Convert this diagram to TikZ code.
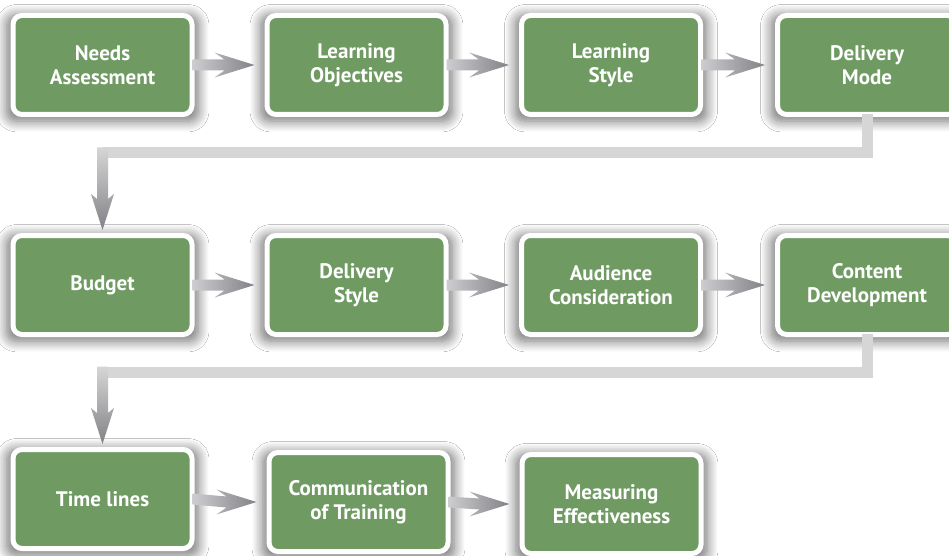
\documentclass[tikz,border=0pt]{standalone}
\usepackage{fontspec}
\setmainfont{PT Sans}
\usetikzlibrary{calc,shadows.blur}
\definecolor{boxgreen}{RGB}{111,155,99}
\definecolor{arrlight}{RGB}{205,205,208}
\definecolor{arrdark}{RGB}{130,130,135}
\definecolor{linklight}{RGB}{214,214,214}
\newcommand\harr[2]{%
  \shade[left color=arrlight,right color=arrdark]
    ($(#1.east)+(-2,-5.5)$) -- ($(#2.west)+(-40,-5.5)$) -- ($(#2.west)+(-50,-12.5)$)
    -- ($(#2.west)+(-10,0)$) -- ($(#2.west)+(-50,12.5)$) -- ($(#2.west)+(-40,5.5)$)
    -- ($(#1.east)+(-2,5.5)$) -- cycle;}
\newcommand\vhead[2]{%
  \shade[top color=linklight,bottom color=arrdark]
    ($(#2.north |- #1)+(-5.5,-5.5)$) -- ($(#2.north |- #1)+(5.5,-5.5)$)
    -- ($(#2.north)+(5.5,-34)$) -- ($(#2.north)+(11.5,-39)$) -- ($(#2.north)+(0,-3)$)
    -- ($(#2.north)+(-11.5,-39)$) -- ($(#2.north)+(-5.5,-34)$) -- cycle;}
\begin{document}
\begin{tikzpicture}[x=1pt,y=-1pt,
  stepbox/.style={draw=white,line width=5pt,fill=boxgreen,rounded corners=9pt,
    minimum width=179pt,minimum height=99pt,align=center,text=white,
    font=\fontsize{21}{24}\selectfont\bfseries,
    blur shadow={shadow xshift=0pt,shadow yshift=-3pt,shadow blur radius=10pt,
      shadow blur steps=12,shadow opacity=55,shadow scale=1.07}},
  link/.style={draw=linklight,line width=11pt}]
\useasboundingbox (0,0) rectangle (949,556);
\fill[white] (0,0) rectangle (949,556);
\node[stepbox] (n1) at (102.5,65) {Needs\\Assessment};
\node[stepbox] (n2) at (356.5,65) {Learning\\Objectives};
\node[stepbox] (n3) at (611,65) {Learning\\Style};
\node[stepbox] (n4) at (867,65) {Delivery\\Mode};
\node[stepbox] (n5) at (102.5,285) {Budget};
\node[stepbox] (n6) at (356.5,285) {Delivery\\Style};
\node[stepbox] (n7) at (611,285) {Audience\\Consideration};
\node[stepbox] (n8) at (867,285) {Content\\Development};
\node[stepbox] (n9) at (102.5,499) {Time lines};
\node[stepbox] (n10) at (358.5,502) {Communication\\of Training};
\node[stepbox] (n11) at (611.5,504) {Measuring\\Effectiveness};
\coordinate (e1) at (0,153);
\coordinate (e2) at (0,372);
\draw[link] ($(n4.south)+(0,-3)$) -- (n4.south |- e1) -- (n5.north |- e1);
\vhead{e1}{n5}
\draw[link] ($(n8.south)+(0,-3)$) -- (n8.south |- e2) -- (n9.north |- e2);
\vhead{e2}{n9}
\harr{n1}{n2}
\harr{n2}{n3}
\harr{n3}{n4}
\harr{n5}{n6}
\harr{n6}{n7}
\harr{n7}{n8}
\harr{n9}{n10}
\harr{n10}{n11}
\end{tikzpicture}
\end{document}
